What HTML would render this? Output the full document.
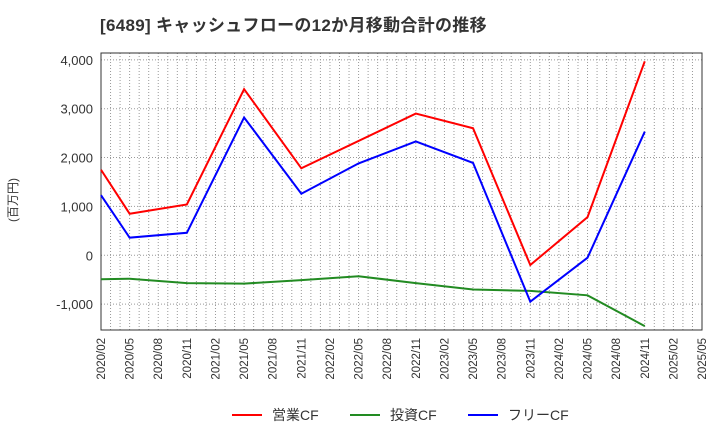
<!DOCTYPE html>
<html><head><meta charset="utf-8"><style>
body{margin:0;background:#fff;font-family:"Liberation Sans","Noto Sans CJK JP",sans-serif;}
</style></head><body>
<svg id="c" width="720" height="440" xmlns="http://www.w3.org/2000/svg">
<text x="100" y="31" font-size="17" font-weight="bold" fill="#333" letter-spacing="0.3">[6489]  キャッシュフローの12か月移動合計の推移</text>
<text transform="translate(17,200) rotate(-90)" font-size="12" fill="#333" text-anchor="middle">(百万円)</text>
<g id="grid"></g><g id="axes"></g><g id="series"></g>
<g>
<line x1="232" y1="415" x2="262" y2="415" stroke="#f00" stroke-width="2"/><text x="272" y="420" font-size="14" fill="#333">営業CF</text>
<line x1="350" y1="415" x2="380" y2="415" stroke="#228b22" stroke-width="2"/><text x="390" y="420" font-size="14" fill="#333">投資CF</text>
<line x1="468" y1="415" x2="498" y2="415" stroke="#00f" stroke-width="2"/><text x="508" y="420" font-size="14" fill="#333">フリーCF</text>
</g>
</svg>
<script>
const categories=["2020/02","2020/05","2020/08","2020/11","2021/02","2021/05","2021/08","2021/11","2022/02","2022/05","2022/08","2022/11","2023/02","2023/05","2023/08","2023/11","2024/02","2024/05","2024/08","2024/11","2025/02","2025/05"];
const yTicks=[-1000,0,1000,2000,3000,4000];
const operatingCF=[1750,850,null,1040,null,3400,null,1780,null,null,null,2900,null,2600,null,-200,null,780,null,3970];
const investingCF=[-490,-480,null,-570,null,-580,null,-510,null,-430,null,-570,null,-700,null,-730,null,-820,null,-1450];
const freeCF=[1230,360,null,460,null,2820,null,1260,null,1880,null,2330,null,1890,null,-950,null,-50,null,2530];
const NS="http://www.w3.org/2000/svg";
const L=101,R=702,T=53,B=330,yMin=-1530,yMax=4140;
const x=i=>L+(R-L)*i/(categories.length-1);
const y=v=>B-(v-yMin)/(yMax-yMin)*(B-T);
function mk(tag,attrs,parent){const e=document.createElementNS(NS,tag);for(const k in attrs)e.setAttribute(k,attrs[k]);document.getElementById(parent).appendChild(e);return e;}
const months=(categories.length-1)*3;
for(let m=1;m<months;m++){const xx=L+(R-L)*m/months;
const g=mk('line',{x1:xx,x2:xx,y1:T,y2:B,stroke:'#999','stroke-dasharray':'1,2','stroke-width':1},'grid');

}
yTicks.forEach(v=>{const g=mk('line',{x1:L,x2:R,y1:y(v),y2:y(v),stroke:'#999','stroke-dasharray':'1,2'},'grid');


const t=mk('text',{x:L-8,y:y(v)+5,'font-size':13,fill:'#333','text-anchor':'end'},'axes');t.textContent=v.toLocaleString('en-US');

});
const fr=mk('rect',{x:L,y:T,width:R-L,height:B-T,fill:'none',stroke:'#333'},'axes');


categories.forEach((c,i)=>{const t=mk('text',{transform:`translate(${x(i)+4},${B+8}) rotate(-90)`,'font-size':11.5,fill:'#333','text-anchor':'end'},'axes');t.textContent=c;

});
function line(data,color,name){const pts=[];data.forEach((v,i)=>{if(v!==null)pts.push(x(i)+','+y(v));});
const p=mk('polyline',{points:pts.join(' '),fill:'none',stroke:color,'stroke-width':2},'series');

}
line(investingCF,'#228b22','investing-cf-line');
line(operatingCF,'#f00','operating-cf-line');
line(freeCF,'#00f','free-cf-line');
</script>
</body></html>
